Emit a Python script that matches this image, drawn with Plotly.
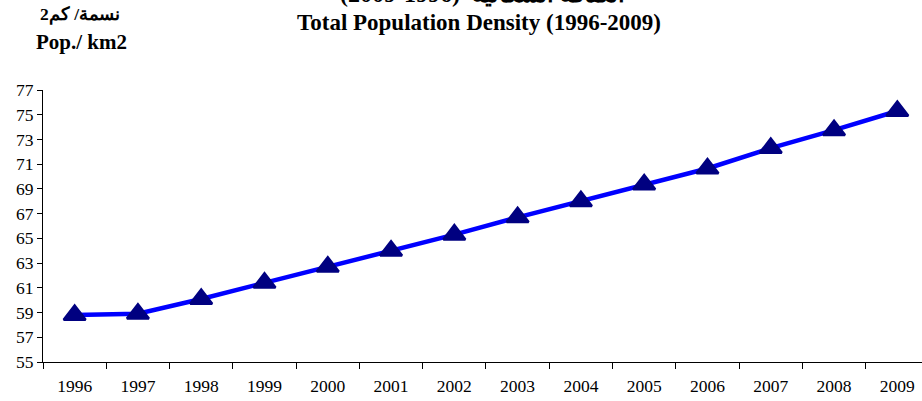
import plotly.graph_objects as go

years = ["1996", "1997", "1998", "1999", "2000", "2001", "2002",
         "2003", "2004", "2005", "2006", "2007", "2008", "2009"]
density = [58.8, 58.9, 60.1, 61.4, 62.7, 64.0, 65.3,
           66.7, 68.0, 69.35, 70.65, 72.3, 73.75, 75.3]
y_ticks = list(range(55, 78, 2))

title_en = "Total Population Density (1996-2009)"
title_ar_years = "(2009-1996)"
title_ar_words = "الكثافة السكانية"
unit_ar = "نسمة/ كم2"
unit_en = "Pop./ km2"

FONT = "Liberation Serif, Times New Roman, serif"

fig = go.Figure()
fig.add_trace(go.Scatter(
    x=years, y=density, mode="lines+markers",
    line=dict(color="#0000FF", width=4.5),
    marker=dict(symbol="triangle-up", size=19, color="#000080",
                line=dict(color="#000080", width=2.5)),
    showlegend=False, cliponaxis=False,
))

fig.update_layout(
    width=922, height=401,
    margin=dict(l=43, r=0, t=90, b=39, autoexpand=False),
    paper_bgcolor="white", plot_bgcolor="white",
    font=dict(family=FONT, color="black"),
    xaxis=dict(
        type="category", range=[-0.5, 13.39], automargin=False,
        showline=True, linecolor="black", linewidth=1,
        ticks="outside", tickson="boundaries", ticklen=6, tickcolor="black",
        tickfont=dict(size=17.5, family=FONT, color="black"),
        ticklabelstandoff=8,
        showgrid=False, zeroline=False,
    ),
    yaxis=dict(
        range=[55, 77], tickvals=y_ticks, automargin=False,
        showline=True, linecolor="black", linewidth=1,
        ticks="outside", ticklen=5, tickcolor="black",
        tickfont=dict(size=17.5, family=FONT, color="black"),
        showgrid=False, zeroline=False,
    ),
    annotations=[
        dict(text="<b>" + title_en + "</b>", xref="paper", yref="paper",
             x=(479 - 43) / 879, y=1 + (90 - 22) / 272.0,
             xanchor="center", yanchor="middle", showarrow=False,
             font=dict(size=23, family=FONT, color="black")),
        dict(text="<b>" + title_ar_years + "</b>", xref="paper", yref="paper",
             x=(338 - 43) / 879, y=1 + (90 - 9) / 272.0,
             xanchor="left", yanchor="bottom", showarrow=False,
             font=dict(size=24, family=FONT, color="black")),
        dict(text="<b>" + title_ar_words + "</b>", xref="paper", yref="paper",
             x=(470 - 43) / 879, y=1 + (90 - 9) / 272.0,
             xanchor="left", yanchor="bottom", showarrow=False,
             font=dict(size=24, family=FONT, color="black")),
        dict(text="<b>" + unit_ar + "</b>", xref="paper", yref="paper",
             x=(80 - 43) / 879, y=1 + (90 - 15) / 272.0,
             xanchor="center", yanchor="middle", showarrow=False,
             font=dict(size=17.5, family=FONT, color="black")),
        dict(text="<b>" + unit_en + "</b>", xref="paper", yref="paper",
             x=(81 - 43) / 879, y=1 + (90 - 42) / 272.0,
             xanchor="center", yanchor="middle", showarrow=False,
             font=dict(size=21, family=FONT, color="black")),
    ],
)

fig.write_html("out.html", config={"displayModeBar": False},
               post_script="document.body.style.margin='0';document.body.style.overflow='hidden';")
